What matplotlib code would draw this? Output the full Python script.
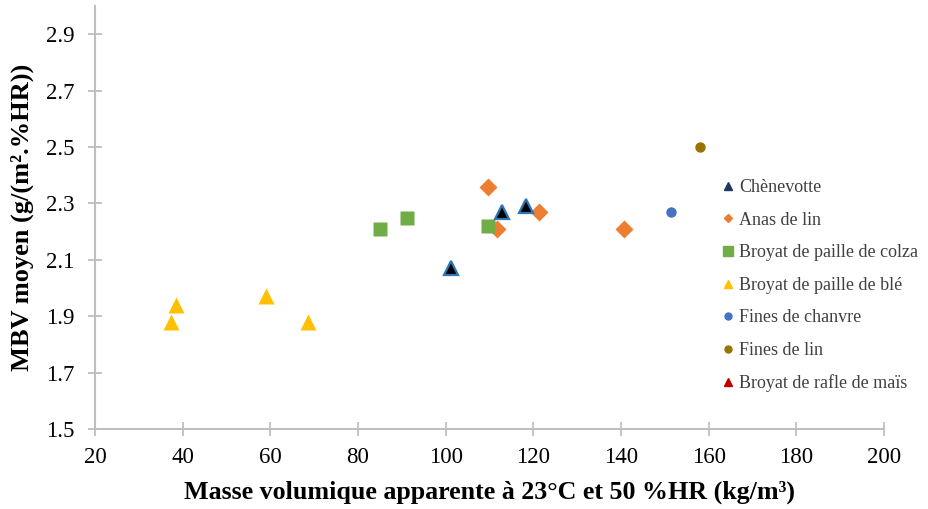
import matplotlib
matplotlib.use("Agg")
import matplotlib.pyplot as plt
from matplotlib.lines import Line2D

plt.rcParams["font.family"] = ["Liberation Serif", "DejaVu Serif"]

# Donnees : masse volumique (kg/m3) et MBV moyen
chenevotte_x = [101.2, 112.8, 118.3]
chenevotte_y = [2.07, 2.27, 2.29]

anas_lin_x = [109.6, 111.6, 121.3, 140.6]
anas_lin_y = [2.36, 2.21, 2.27, 2.21]

colza_x = [84.9, 91.2, 109.6]
colza_y = [2.21, 2.25, 2.22]

ble_x = [38.5, 37.4, 59.0, 68.5]
ble_y = [1.94, 1.88, 1.97, 1.88]

chanvre_x = [151.4]
chanvre_y = [2.27]

fines_lin_x = [158.0]
fines_lin_y = [2.50]

mais_x = []
mais_y = []

noms = ["Chènevotte", "Anas de lin", "Broyat de paille de colza",
        "Broyat de paille de blé", "Fines de chanvre", "Fines de lin",
        "Broyat de rafle de maïs"]

xticks = [20, 40, 60, 80, 100, 120, 140, 160, 180, 200]
yticks = [1.5, 1.7, 1.9, 2.1, 2.3, 2.5, 2.7, 2.9]

fig = plt.figure(figsize=(9.29, 5.09), dpi=100)
ax = fig.add_axes([0.1023, 0.1572, 0.8493, 0.8308])

ax.plot(chenevotte_x, chenevotte_y, ls="none", marker="^", ms=10,
        mfc="black", mec="#2E75B6", mew=1.6, zorder=4)
ax.plot(anas_lin_x, anas_lin_y, ls="none", marker="D", ms=9,
        color="#ED7D31", mec="none", zorder=3)
ax.plot(colza_x, colza_y, ls="none", marker="s", ms=10,
        color="#70AD47", mec="none", zorder=3)
ax.plot(ble_x, ble_y, ls="none", marker="^", ms=12,
        color="#FFC000", mec="none", zorder=3)
ax.plot(chanvre_x, chanvre_y, ls="none", marker="o", ms=7.5,
        color="#4472C4", mec="none", zorder=3)
ax.plot(fines_lin_x, fines_lin_y, ls="none", marker="o", ms=7.5,
        color="#997300", mec="none", zorder=3)
ax.plot(mais_x, mais_y, ls="none", marker="^", ms=7, color="#C00000")

ax.set_xlim(20, 200)
ax.set_ylim(1.5, 3.0)
ax.set_xticks(xticks)
ax.set_yticks(yticks)
ax.set_yticklabels([str(v) for v in yticks])

for cote in ["top", "right"]:
    ax.spines[cote].set_visible(False)
for cote in ["left", "bottom"]:
    ax.spines[cote].set_color("#BFBFBF")
    ax.spines[cote].set_linewidth(1.5)
ax.tick_params(direction="inout", length=10, width=1.3, color="#BFBFBF",
               labelsize=16.5)
ax.tick_params(axis="y", pad=10)
ax.tick_params(axis="x", pad=8)

ax.set_xlabel("Masse volumique apparente à 23°C et 50 %HR (kg/m³)",
              fontsize=18.7, fontweight="bold", labelpad=9)
ax.set_ylabel("MBV moyen (g/(m².%HR))", fontsize=19, fontweight="bold",
              labelpad=8)

# legende : petits marqueurs comme dans l'original
poignees = [
    Line2D([], [], ls="none", marker="^", ms=6, color="#1F3864"),
    Line2D([], [], ls="none", marker="D", ms=4.5, color="#ED7D31"),
    Line2D([], [], ls="none", marker="s", ms=7, color="#70AD47"),
    Line2D([], [], ls="none", marker="^", ms=6, color="#FFC000"),
    Line2D([], [], ls="none", marker="o", ms=5, color="#4472C4"),
    Line2D([], [], ls="none", marker="o", ms=5, color="#997300"),
    Line2D([], [], ls="none", marker="^", ms=6, color="#C00000"),
]
leg = fig.legend(poignees, noms, loc="upper left",
                 bbox_to_anchor=(0.770, 0.662), frameon=False,
                 fontsize=13, handlelength=0.6, handletextpad=0.3,
                 labelspacing=0.86, borderaxespad=0)
for t in leg.get_texts():
    t.set_color("#404040")

fig.savefig("out.png", dpi=100)
